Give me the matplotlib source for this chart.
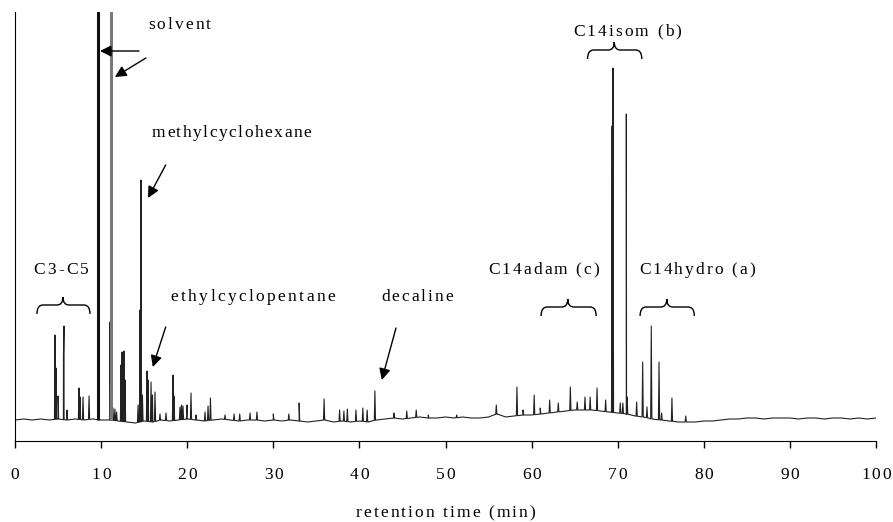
import numpy as np
import matplotlib
matplotlib.use("Agg")
import matplotlib.pyplot as plt
from matplotlib.path import Path
from matplotlib.patches import PathPatch
from matplotlib.transforms import offset_copy, blended_transform_factory
from matplotlib.textpath import TextToPath
from matplotlib.font_manager import FontProperties

plt.rcParams["font.family"] = ["Liberation Serif", "DejaVu Serif"]

# ---------- data: baseline level, one value per minute ----------
base_t = list(range(0, 101))
base_y = [0, 1, 0, 1, 0, 1, 0, 1, 0, 1,
          0, 0, -1, -2, -3, -1, -2, 0, -1, 0,
          1, 0, -1, 0, 1, 0, -1, 0, 0, -1,
          0, -1, 0, -1, -2, -1, 0, -2, -1, -2,
          -1, -2, 0, 1, 2, 1, 2, 3, 2, 2,
          3, 2, 3, 2, 2, 3, 6, 3, 4, 5,
          5, 6, 7, 8, 9, 10, 10, 10, 9, 8,
          7, 6, 4, 3, 1, 0, -1, -2, -2, -2,
          -1, -1, 0, 1, 1, 2, 2, 1, 2, 2,
          2, 1, 2, 2, 1, 2, 2, 1, 2, 1, 2]

# ---------- data: peaks (retention time, apex level) ----------
peak_t = [4.65, 4.76, 5.0, 5.63, 5.69, 6.04, 7.43, 7.55, 7.9, 8.6,
          11.03, 11.38, 11.6, 11.8, 12.31, 12.43, 12.66, 12.78,
          14.29, 14.52, 14.63, 14.8, 15.33, 15.45, 15.8, 15.97, 16.26, 16.84, 17.54,
          18.35, 18.47, 19.16, 19.34, 19.51, 19.98, 20.44, 21.02, 22.07, 22.42, 22.7,
          24.39, 25.44, 26.1, 27.3, 28.1, 30.0, 31.8, 33.0, 35.9, 37.7, 38.2, 38.6,
          39.6, 40.4, 40.9, 41.8, 44.0, 45.5, 46.6, 48.0, 51.3,
          55.9, 58.3, 59.0, 60.3, 61.0, 62.1, 63.1, 64.5, 65.3, 66.2, 66.8, 67.6,
          68.6, 69.3, 69.35, 69.45, 70.3, 70.6, 71.0, 71.1, 72.2, 72.9, 73.4, 73.9,
          74.8, 75.1, 76.3, 77.9]
peak_y = [85, 52, 24, 65, 94, 10, 32, 23, 23, 24,
          98, 12, 11, 8, 55, 68, 69, 40,
          15, 110, 240, 25, 49, 40, 38, 25, 28, 6, 7,
          45, 24, 13, 15, 14, 15, 27, 5, 8, 14, 22,
          5, 6, 6, 7, 8, 6, 6, 17, 21, 10, 9, 11,
          10, 12, 10, 29, 7, 9, 10, 5, 5,
          15, 33, 10, 25, 12, 20, 17, 33, 18, 23, 23, 32,
          20, 63, 294, 352, 17, 17, 306, 23, 18, 58, 13, 94,
          58, 7, 22, 4]

# off-scale solvent peaks
solvent_t = [9.64, 11.2]
solvent_colors = ["#111111", "#7a7a7a"]

ticks = [0, 10, 20, 30, 40, 50, 60, 70, 80, 90, 100]

# ---------- build trace ----------
pts = list(zip(base_t, base_y))
for t, h in zip(peak_t, peak_y):
    b = np.interp(t, base_t, base_y)
    pts += [(t - 0.07, b), (t, h), (t + 0.07, b)]
pts.sort(key=lambda p: p[0])
trace_t = [p[0] for p in pts]
trace_y = [p[1] for p in pts]

fig = plt.figure(figsize=(8.93, 5.22), dpi=100)
ax = fig.add_axes([15 / 893, 81 / 522, 861 / 893, 429 / 522])

ax.plot(trace_t, trace_y, color="#222222", lw=0.8)
for t, c in zip(solvent_t, solvent_colors):
    b = np.interp(t, base_t, base_y)
    ax.plot([t, t], [b, 700], color=c, lw=2.2, solid_capstyle="butt")

ax.set_xlim(0, 100)
ax.set_ylim(-21, 408)
ax.set_xticks(ticks)
ax.set_xticklabels([])
ax.set_yticks([])
ax.tick_params(axis="x", direction="out", length=5, width=1)
for s in ["top", "right"]:
    ax.spines[s].set_visible(False)

fs = 12.5
ttp = TextToPath()


def spaced_text(x, y, s, ha="left", gap=1.5, transform=None):
    # letter-spaced text: each glyph placed on its own, gap in points
    prop = FontProperties(family="Liberation Serif", size=fs)
    widths = [ttp.get_text_width_height_descent(c, prop, ismath=False)[0] for c in s]
    total = sum(widths) + gap * (len(s) - 1)
    off = {"left": 0, "center": -total / 2, "right": -total}[ha]
    base = transform if transform is not None else ax.transData
    for c, w in zip(s, widths):
        tr = offset_copy(base, fig=fig, x=off, y=0, units="points")
        ax.text(x, y, c, fontsize=fs, va="center", ha="left", transform=tr,
                clip_on=False)
        off += w + gap


# tick labels and axis title
xblend = blended_transform_factory(ax.transData, ax.transAxes)
for t in ticks:
    spaced_text(t, -0.079, str(t), ha="center", gap=1.2, transform=xblend)
spaced_text(0.5, -0.168, "retention time (min)", ha="center", transform=ax.transAxes)

arrow = dict(arrowstyle="-|>", color="black", lw=1, mutation_scale=17,
             shrinkA=0, shrinkB=0)

# solvent
spaced_text(15.45, 395, "solvent")
ax.annotate("", xy=(9.87, 369), xytext=(14.4, 369), arrowprops=arrow)
ax.annotate("", xy=(11.6, 343), xytext=(15.2, 362), arrowprops=arrow)

# methylcyclohexane
spaced_text(15.9, 287, "methylcyclohexane", gap=1.1)
ax.annotate("", xy=(15.45, 222), xytext=(17.5, 255), arrowprops=arrow)

# ethylcyclopentane
spaced_text(18.1, 123, "ethylcyclopentane", gap=1.7)
ax.annotate("", xy=(16.0, 53), xytext=(17.5, 93), arrowprops=arrow)

# decaline
spaced_text(46.7, 123, "decaline", ha="center")
ax.annotate("", xy=(42.6, 40), xytext=(44.25, 92), arrowprops=arrow)


def brace(x0, x1, xm, y, drop=9, rise=8):
    # curly brace opening downward, ends curl down, tip up at xm
    r = 0.7
    verts = [(x0, y - drop), (x0, y), (x0 + r, y),
             (xm - r, y), (xm, y), (xm, y + rise),
             (xm, y), (xm + r, y),
             (x1 - r, y), (x1, y), (x1, y - drop)]
    codes = [Path.MOVETO, Path.CURVE3, Path.CURVE3,
             Path.LINETO, Path.CURVE3, Path.CURVE3,
             Path.CURVE3, Path.CURVE3,
             Path.LINETO, Path.CURVE3, Path.CURVE3]
    ax.add_patch(PathPatch(Path(verts, codes), fc="none", ec="black", lw=1))


spaced_text(5.34, 150, "C3-C5", ha="center")
brace(2.55, 8.71, 5.57, 115)

spaced_text(61.4, 150, "C14adam (c)", ha="center")
brace(61.1, 67.5, 64.2, 113)

spaced_text(79.2, 150, "C14hydro (a)", ha="center")
brace(72.6, 78.9, 75.7, 113)

spaced_text(71.1, 388, "C14isom (b)", ha="center")
brace(66.5, 72.8, 69.6, 370)

fig.savefig("out.png", dpi=100)
